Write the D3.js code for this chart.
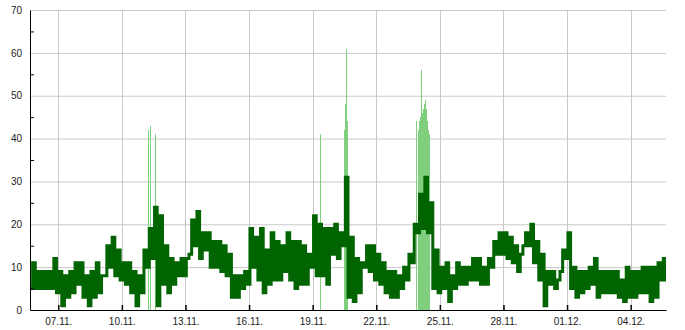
<!DOCTYPE html>
<html>
<head>
<meta charset="utf-8">
<script src="https://cdn.jsdelivr.net/npm/d3@7"></script>
<style>
  body { margin: 0; background: #fff; }
  svg { display: block; font-family: "DejaVu Sans", sans-serif; }
  .tick text { fill: #222; font-size: 10px; }
</style>
</head>
<body>
<svg id="chart"></svg>
<script>
// series envelope, one value every 6 hours from 05.11. 16:00
const hiValues = [11, 9, 9, 9, 12, 9, 8, 9, 11, 11, 8, 9, 11, 8, 15, 17, 14, 11, 11, 9,
                  8, 14, 19, 24, 22, 15, 12, 11, 12, 12, 21, 23, 18, 18, 16, 16, 15, 13, 8, 8,
                  9, 19, 17, 19, 14, 18, 16, 15, 18, 16, 16, 15, 13, 22, 20, 19, 19, 20, 18, 31,
                  17, 12, 11, 15, 15, 13, 11, 9, 9, 8, 10, 13, 20, 27, 31, 25, 14, 10, 11, 8,
                  11, 10, 10, 12, 12, 10, 12, 16, 18, 18, 17, 15, 13, 18, 20, 16, 13, 9, 9, 7,
                  14, 18, 10, 9, 9, 10, 12, 9, 9, 9, 9, 7, 10, 9, 9, 10, 10, 10, 11, 12, 11];
const loValues = [5, 5, 5, 5, 5, 4, 1, 3, 4, 6, 3, 1, 3, 4, 8, 10, 8, 7, 6, 4,
                  1, 4, 10, 12, 1, 6, 4, 6, 8, 8, 13, 15, 12, 14, 10, 10, 9, 8, 3, 3,
                  5, 6, 10, 7, 4, 6, 7, 7, 9, 7, 5, 6, 6, 10, 8, 8, 6, 13, 12, 15,
                  3, 2, 4, 10, 9, 7, 6, 4, 3, 3, 5, 7, 11, 18, 19, 18, 5, 4, 5, 2,
                  5, 6, 6, 7, 7, 6, 6, 10, 13, 13, 12, 11, 9, 15, 15, 11, 7, 1, 6, 5,
                  9, 12, 5, 3, 4, 5, 6, 3, 4, 4, 4, 3, 2, 3, 3, 4, 4, 2, 3, 7, 7];

// short peaks (hourly), "day.month hour"
const peakTimes = ["11.11 06", "11.11 08", "11.11 14", "19.11 08", "20.11 11", "20.11 13",
                   "20.11 14", "20.11 15", "23.11 21", "23.11 23", "24.11 00", "24.11 01",
                   "24.11 02", "24.11 03", "24.11 04", "24.11 05", "24.11 06", "24.11 07",
                   "24.11 08", "24.11 09", "24.11 10", "24.11 11", "24.11 12"];
const peakValues = [42, 43, 41, 41, 42, 48, 61, 44, 44, 42, 44, 43,
                    45, 56, 46, 47, 48, 49, 47, 44, 42, 41, 41];

const yTicks = [0, 10, 20, 30, 40, 50, 60, 70];

const width = 685;
const height = 330;
const margin = {top: 10, right: 19, bottom: 20, left: 30};
const innerW = width - margin.left - margin.right;
const innerH = height - margin.top - margin.bottom;

const start = new Date(2023, 10, 5, 16);
const end = new Date(2023, 11, 5, 16);
const HOUR = 3600 * 1000;
const parsePeak = d3.timeParse("%Y %d.%m %H");

let svg = d3.select("#chart")
            .attr("width", width)
            .attr("height", height);

let x = d3.scaleTime().domain([start, end]).range([0, innerW]);
let y = d3.scaleLinear().domain([0, 70]).range([innerH, 0]);

let g = svg.append("g")
           .attr("transform", `translate(${margin.left},${margin.top})`);

g.append("clipPath")
    .attr("id", "clip")
  .append("rect")
    .attr("width", innerW)
    .attr("height", innerH);

let dayTicks = x.ticks(d3.timeDay.every(3));

//grid
g.append("g")
  .selectAll("line")
  .data(yTicks.slice(1))
  .enter()
  .append("line")
    .attr("x1", 0).attr("x2", innerW)
    .attr("y1", d => y(d) + 0.5).attr("y2", d => y(d) + 0.5)
    .attr("stroke", "#c8c8c8");

g.append("g")
  .selectAll("line")
  .data(dayTicks)
  .enter()
  .append("line")
    .attr("x1", d => Math.round(x(d)) + 0.5).attr("x2", d => Math.round(x(d)) + 0.5)
    .attr("y1", 0).attr("y2", innerH)
    .attr("stroke", "#c8c8c8");

let plot = g.append("g").attr("clip-path", "url(#clip)");

//light peaks
let peaks = peakTimes.map((t, i) => ({t: parsePeak("2023 " + t), v: peakValues[i]}));

plot.append("g")
  .selectAll("rect")
  .data(peaks)
  .enter()
  .append("rect")
    .attr("x", d => x(d.t))
    .attr("y", d => y(d.v))
    .attr("width", d => Math.max(1, x(new Date(+d.t + HOUR)) - x(d.t)))
    .attr("height", d => y(0) - y(d.v))
    .attr("fill", "#7fcf7f")
    .attr("shape-rendering", "crispEdges");

//main series as lo/hi zigzag
let points = [];
hiValues.forEach((hi, i) => {
  let t = new Date(+start + i * 6 * HOUR);
  points.push({t: t, v: loValues[i]});
  points.push({t: new Date(+t + 3 * HOUR), v: hi});
});

let line = d3.line()
             .x(d => x(d.t))
             .y(d => y(d.v))
             .curve(d3.curveStepAfter);

plot.append("path")
    .datum(points)
    .attr("d", line)
    .attr("fill", "none")
    .attr("stroke", "#006400")
    .attr("stroke-width", 3);

//axes
let xAxis = d3.axisBottom(x)
              .tickValues(dayTicks)
              .tickFormat(d3.timeFormat("%d.%m."))
              .tickSize(-5)
              .tickPadding(8)
              .tickSizeOuter(0);

let xg = g.append("g")
    .attr("transform", `translate(0,${innerH})`)
    .call(xAxis);
xg.select(".domain").attr("stroke", "#000");
xg.selectAll(".tick line").attr("stroke", "#000").attr("stroke-width", 1.5);

let yAxis = d3.axisLeft(y)
              .tickValues(yTicks)
              .tickSize(0)
              .tickPadding(8)
              .tickSizeOuter(0);

let yg = g.append("g").call(yAxis);
yg.select(".domain").attr("stroke", "#000");

//minor ticks
yg.selectAll("line.minor")
  .data(d3.range(5, 70, 10))
  .enter()
  .append("line")
    .attr("x1", 0).attr("x2", 4)
    .attr("y1", d => y(d) + 0.5).attr("y2", d => y(d) + 0.5)
    .attr("stroke", "#000");
</script>
</body>
</html>
